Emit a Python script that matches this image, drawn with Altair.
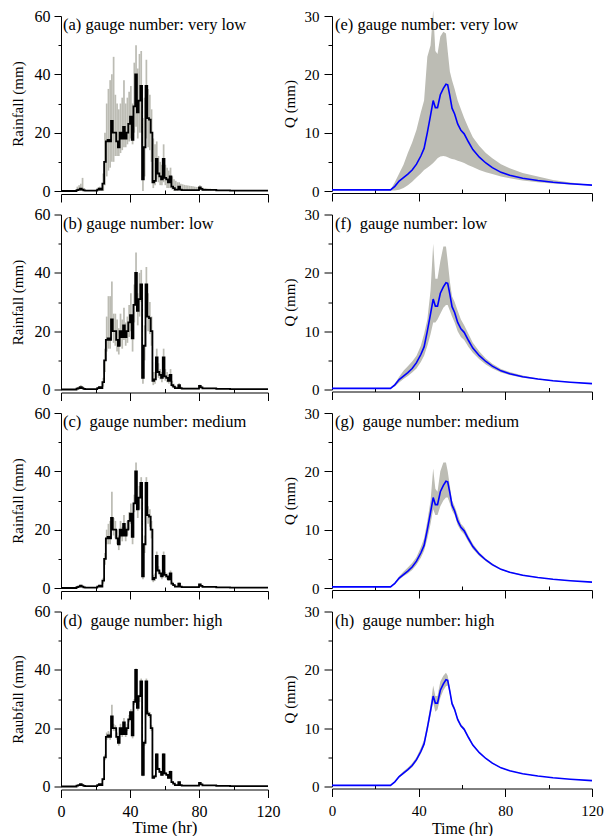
import altair as alt
import pandas as pd

# ---------------- Rainfall (hourly, t = 0..119) ----------------
HOURS = list(range(120))

R_MID = [
    0, 0, 0, 0, 0, 0, 0, 0, 0, 0.3,
    0.5, 0.8, 0.5, 0.2, 0.1, 0.1, 0.1, 0.1, 0.1, 0.1,
    0.1, 0.5, 0.8, 0.5, 2.5, 10, 17, 17.5, 17, 24,
    20, 20, 17, 15, 20, 18, 22, 18, 20, 23,
    25.5, 17.5, 29, 40, 27, 31, 36, 4, 15, 36,
    25, 24.5, 20, 3, 3.5, 11, 6, 5, 4, 11,
    4.5, 4, 3, 5, 1.5, 1, 0.5, 0.5, 1.5, 0.5,
    0.3, 0.3, 0.3, 0.3, 0.3, 0.3, 0.3, 0.3, 0.3, 0.3,
    1.2, 0.7, 0.4, 0.4, 0.4, 0.4, 0.4, 0.4, 0.4, 0.4,
    0.2, 0.2, 0.2, 0.2, 0.2, 0.2, 0.2, 0.2, 0.1, 0.1,
    0.1, 0.1, 0.1, 0.1, 0.1, 0.1, 0.1, 0.1, 0.1, 0.1,
    0.1, 0.1, 0.1, 0.1, 0.1, 0.1, 0.1, 0.1, 0.1, 0.1,
]

A_HI = [
    0, 0, 0, 0, 0, 0, 0, 0, 0.3, 1.5,
    2, 2.5, 4.5, 1, 0.3, 0.3, 0.3, 0.3, 0.3, 0.3,
    0.5, 1.2, 1.5, 1.2, 6, 20, 30, 35, 38, 40,
    46, 33, 30, 28, 30, 32, 38, 30, 32, 34,
    36, 30, 44, 50, 42, 47, 48, 25, 32, 45,
    35, 33, 28, 18, 16, 17, 12, 10, 9, 16,
    9, 8, 7, 8, 5, 4, 3.5, 3, 3, 2.5,
    2.3, 2.1, 2, 1.9, 1.8, 1.7, 1.6, 1.5, 1.4, 1.4,
    2, 1.5, 1.1, 1, 0.9, 0.8, 0.8, 0.7, 0.6, 0.5,
    0.4, 0.35, 0.3, 0.3, 0.25, 0.25, 0.2, 0.2, 0.15, 0.15,
    0.1, 0.1, 0.1, 0.1, 0.1, 0.1, 0.1, 0.1, 0.1, 0.1,
    0.1, 0.1, 0.1, 0.1, 0.1, 0.1, 0.1, 0.1, 0.1, 0.1,
]
A_LO = [
    0, 0, 0, 0, 0, 0, 0, 0, 0, 0,
    0, 0, 0, 0, 0, 0, 0, 0, 0, 0,
    0, 0, 0, 0, 0, 2, 5, 7, 8, 10,
    10, 12, 12, 12, 13, 14, 15, 15, 16, 17,
    18, 16, 20, 22, 18, 20, 20, 0, 5, 18,
    15, 14, 10, 1, 2, 4, 3, 2, 2, 3,
    2, 1, 1, 1, 0.5, 0, 0, 0, 0.3, 0,
    0, 0, 0, 0, 0, 0, 0, 0, 0, 0,
    0.4, 0.2, 0, 0, 0, 0, 0, 0, 0, 0,
    0, 0, 0, 0, 0, 0, 0, 0, 0, 0,
    0, 0, 0, 0, 0, 0, 0, 0, 0, 0,
    0, 0, 0, 0, 0, 0, 0, 0, 0, 0,
]

B_HI = [
    0, 0, 0, 0, 0, 0, 0, 0, 0, 0.8,
    1.2, 1.5, 1.2, 0.5, 0.2, 0.2, 0.2, 0.2, 0.2, 0.2,
    0.2, 0.8, 1.2, 0.8, 4, 14, 25, 32, 32, 37,
    26, 26, 24, 21, 26, 24, 28, 23, 25, 29,
    33, 24, 36, 47, 33, 40, 41, 10, 22, 42,
    33, 30, 25, 6, 6, 14, 9, 7, 6, 14,
    7, 6, 5, 7, 3, 2, 1.2, 1, 2.2, 1,
    0.6, 0.6, 0.6, 0.6, 0.6, 0.6, 0.6, 0.6, 0.6, 0.6,
    1.6, 1, 0.6, 0.6, 0.6, 0.6, 0.6, 0.6, 0.6, 0.6,
    0.3, 0.3, 0.3, 0.3, 0.3, 0.3, 0.3, 0.3, 0.15, 0.15,
    0.15, 0.15, 0.15, 0.15, 0.15, 0.15, 0.15, 0.15, 0.15, 0.15,
    0.15, 0.15, 0.15, 0.15, 0.15, 0.15, 0.15, 0.15, 0.15, 0.15,
]
B_LO = [
    0, 0, 0, 0, 0, 0, 0, 0, 0, 0,
    0, 0.3, 0.2, 0, 0, 0, 0, 0, 0, 0,
    0, 0.2, 0.4, 0.2, 1, 6, 13, 14, 14, 20,
    16, 15, 13, 12, 15, 14, 17, 15, 16, 18,
    20, 13, 23, 33, 22, 25, 30, 2, 10, 30,
    20, 19, 15, 1.5, 2, 8, 4, 3.5, 2.5, 8,
    3, 2.5, 2, 3.5, 0.8, 0.5, 0.2, 0.2, 0.8, 0.2,
    0.1, 0.1, 0.1, 0.1, 0.1, 0.1, 0.1, 0.1, 0.1, 0.1,
    0.7, 0.4, 0.2, 0.2, 0.2, 0.2, 0.2, 0.2, 0.2, 0.2,
    0.1, 0.1, 0.1, 0.1, 0.1, 0.1, 0.1, 0.1, 0.05, 0.05,
    0.05, 0.05, 0.05, 0.05, 0.05, 0.05, 0.05, 0.05, 0.05, 0.05,
    0.05, 0.05, 0.05, 0.05, 0.05, 0.05, 0.05, 0.05, 0.05, 0.05,
]

C_HI = [
    0, 0, 0, 0, 0, 0, 0, 0, 0, 0.5,
    0.8, 1.1, 0.8, 0.4, 0.2, 0.2, 0.2, 0.2, 0.2, 0.2,
    0.2, 0.8, 1.1, 0.8, 3.5, 12, 20, 22, 23, 33,
    24, 23, 20, 18, 23, 21, 25, 21, 23, 26,
    29, 21, 32, 43, 30, 35, 38, 6, 18, 38,
    28, 27, 23, 4.5, 5, 12.5, 7.5, 6, 5, 12.5,
    5.5, 5, 4, 6, 2.2, 1.4, 0.8, 0.8, 1.9, 0.8,
    0.5, 0.5, 0.5, 0.5, 0.5, 0.5, 0.5, 0.5, 0.5, 0.5,
    1.5, 0.9, 0.5, 0.5, 0.5, 0.5, 0.5, 0.5, 0.5, 0.5,
    0.3, 0.3, 0.3, 0.3, 0.3, 0.3, 0.3, 0.3, 0.15, 0.15,
    0.15, 0.15, 0.15, 0.15, 0.15, 0.15, 0.15, 0.15, 0.15, 0.15,
    0.15, 0.15, 0.15, 0.15, 0.15, 0.15, 0.15, 0.15, 0.15, 0.15,
]
C_LO = [
    0, 0, 0, 0, 0, 0, 0, 0, 0, 0.1,
    0.2, 0.5, 0.3, 0.1, 0, 0, 0, 0, 0, 0,
    0, 0.3, 0.5, 0.3, 1.5, 8, 15, 15, 15, 20,
    18, 17, 15, 13, 17, 16, 19, 16, 18, 20,
    22, 15, 26, 36, 24, 27, 32, 3, 12, 32,
    22, 21, 17, 2, 2.5, 9.5, 5, 4, 3, 9.5,
    3.5, 3, 2.5, 4, 1, 0.7, 0.3, 0.3, 1.1, 0.3,
    0.15, 0.15, 0.15, 0.15, 0.15, 0.15, 0.15, 0.15, 0.15, 0.15,
    0.9, 0.5, 0.3, 0.3, 0.3, 0.3, 0.3, 0.3, 0.3, 0.3,
    0.1, 0.1, 0.1, 0.1, 0.1, 0.1, 0.1, 0.1, 0.05, 0.05,
    0.05, 0.05, 0.05, 0.05, 0.05, 0.05, 0.05, 0.05, 0.05, 0.05,
    0.05, 0.05, 0.05, 0.05, 0.05, 0.05, 0.05, 0.05, 0.05, 0.05,
]

D_HI = [
    0, 0, 0, 0, 0, 0, 0, 0, 0, 0.4,
    0.6, 0.9, 0.6, 0.3, 0.15, 0.15, 0.15, 0.15, 0.15, 0.15,
    0.15, 0.6, 0.9, 0.6, 3, 11, 18.5, 19, 18.5, 28,
    21.5, 21, 18.5, 16.5, 21.5, 19.5, 23.5, 19, 21.5, 24.5,
    26.5, 18.5, 30, 40.5, 28, 31.5, 37, 5, 16, 37,
    26, 25.5, 21, 3.5, 4, 11.5, 6.5, 5.5, 4.5, 11.5,
    5, 4.4, 3.3, 5.5, 1.7, 1.2, 0.6, 0.6, 1.7, 0.6,
    0.4, 0.4, 0.4, 0.4, 0.4, 0.4, 0.4, 0.4, 0.4, 0.4,
    1.3, 0.8, 0.45, 0.45, 0.45, 0.45, 0.45, 0.45, 0.45, 0.45,
    0.25, 0.25, 0.25, 0.25, 0.25, 0.25, 0.25, 0.25, 0.12, 0.12,
    0.12, 0.12, 0.12, 0.12, 0.12, 0.12, 0.12, 0.12, 0.12, 0.12,
    0.12, 0.12, 0.12, 0.12, 0.12, 0.12, 0.12, 0.12, 0.12, 0.12,
]
D_LO = [
    0, 0, 0, 0, 0, 0, 0, 0, 0, 0.2,
    0.4, 0.7, 0.4, 0.1, 0.05, 0.05, 0.05, 0.05, 0.05, 0.05,
    0.05, 0.4, 0.7, 0.4, 2, 9, 16, 16.5, 16, 22,
    19, 19, 16, 14, 19, 17, 21, 17, 19, 22,
    24.5, 16.5, 28, 39, 26, 29, 35, 3.5, 14, 35,
    24, 23.5, 19, 2.7, 3, 10.5, 5.6, 4.6, 3.6, 10.5,
    4, 3.6, 2.7, 4.6, 1.3, 0.8, 0.4, 0.4, 1.3, 0.4,
    0.2, 0.2, 0.2, 0.2, 0.2, 0.2, 0.2, 0.2, 0.2, 0.2,
    1.1, 0.6, 0.35, 0.35, 0.35, 0.35, 0.35, 0.35, 0.35, 0.35,
    0.15, 0.15, 0.15, 0.15, 0.15, 0.15, 0.15, 0.15, 0.08, 0.08,
    0.08, 0.08, 0.08, 0.08, 0.08, 0.08, 0.08, 0.08, 0.08, 0.08,
    0.08, 0.08, 0.08, 0.08, 0.08, 0.08, 0.08, 0.08, 0.08, 0.08,
]

# ---------------- Discharge Q ----------------
Q_T = [0, 27, 29, 31, 33, 35, 37, 39, 41,
       42.5, 44, 45.5, 46.7, 47.7, 48.7,
       50, 51.4, 52.6, 53.4, 54.4, 55.4, 56.6,
       58, 59.5, 61, 63, 65,
       68, 71, 74, 78, 82,
       88, 95, 102, 110, 120]
Q_MID = [0.2, 0.2, 0.8, 1.7, 2.3, 2.9, 3.6, 4.6, 6.0,
         7.3, 10, 13, 15.5, 14.3, 14.3,
         16.5, 17.6, 18.3, 18.2, 16.3, 14.2, 13.2,
         11.5, 10.4, 9.8, 8.4, 7.1,
         5.8, 4.8, 4.0, 3.2, 2.7,
         2.2, 1.8, 1.5, 1.25, 1.0]
E_HI = [0.2, 0.2, 1.5, 3.0, 4.5, 6.5, 8.3, 10.5, 13.5,
        15.5, 23, 25, 31, 24, 23.5,
        26.5, 27.3, 27, 24, 20.5, 19, 17.5,
        15.5, 14, 12.5, 10.8, 9.2,
        7.7, 6.5, 5.6, 4.6, 3.9,
        3.1, 2.5, 1.9, 1.45, 1.05]
E_LO = [0.2, 0.1, 0.1, 0.2, 0.5, 1.0, 1.6, 2.3, 3.0,
        3.6, 4.0, 4.4, 4.8, 5.2, 5.6,
        5.9, 6.0, 5.9, 5.8, 5.6, 5.5, 5.4,
        5.2, 5.0, 4.8, 4.4, 4.1,
        3.6, 3.2, 2.9, 2.5, 2.2,
        1.8, 1.5, 1.3, 1.1, 0.95]
F_HI = [0.2, 0.2, 1.0, 2.2, 3.2, 4.0, 4.8, 5.8, 7.5,
        9.5, 12, 17, 25, 19, 19,
        22, 24.5, 24.5, 22, 18.5, 16, 15,
        13.5, 12, 11, 9.5, 8,
        6.5, 5.3, 4.4, 3.5, 3.0,
        2.4, 1.9, 1.6, 1.3, 1.0]
F_LO = [0.2, 0.2, 0.5, 1.2, 1.8, 2.3, 2.9, 3.6, 4.7,
        5.8, 7.5, 9.5, 11.5, 11.5, 12,
        13, 14, 14.5, 14.5, 13.5, 12.5, 11.5,
        10, 9, 8.5, 7.3, 6.3,
        5.2, 4.3, 3.6, 2.9, 2.5,
        2.0, 1.7, 1.4, 1.2, 0.95]
G_HI = [0.2, 0.2, 0.9, 2.0, 2.8, 3.5, 4.3, 5.3, 7.0,
        8.5, 11.5, 15, 20.5, 17, 16.5,
        20, 21.5, 21.5, 20, 17.5, 15, 14,
        12.5, 11, 10.4, 8.9, 7.6,
        6.1, 5.0, 4.2, 3.3, 2.8,
        2.3, 1.85, 1.55, 1.27, 1.0]
G_LO = [0.2, 0.2, 0.7, 1.4, 2.0, 2.5, 3.1, 4.0, 5.2,
        6.4, 8.5, 11, 13.5, 12.5, 12.5,
        14, 15, 15.5, 15.5, 14.5, 13.3, 12.5,
        10.8, 9.8, 9.2, 7.9, 6.7,
        5.5, 4.6, 3.8, 3.1, 2.6,
        2.1, 1.75, 1.45, 1.22, 0.98]
H_HI = [0.2, 0.2, 0.85, 1.9, 2.6, 3.2, 4.0, 5.0, 6.6,
        8.0, 10.8, 14, 17.3, 15.5, 15.5,
        18, 19, 19.5, 19, 16.8, 14.6, 13.6,
        11.8, 10.7, 10.1, 8.6, 7.3,
        5.9, 4.9, 4.1, 3.25, 2.75,
        2.25, 1.82, 1.52, 1.26, 1.0]
H_LO = [0.2, 0.2, 0.75, 1.5, 2.1, 2.7, 3.3, 4.3, 5.6,
        6.9, 9.4, 12.2, 14.5, 12.8, 13.2,
        15.2, 16.5, 17.2, 17.3, 15.8, 13.8, 12.9,
        11.2, 10.2, 9.6, 8.2, 6.9,
        5.7, 4.7, 3.9, 3.15, 2.65,
        2.15, 1.78, 1.48, 1.24, 1.0]

RAIN_TITLES = ["(a) gauge number: very low", "(b) gauge number: low",
               "(c)\u00a0 gauge number: medium", "(d)\u00a0 gauge number: high"]
Q_TITLES = ["(e) gauge number: very low", "(f)\u00a0 gauge number: low",
            "(g)\u00a0 gauge number: medium", "(h)\u00a0 gauge number: high"]
RAIN_YTITLES = ["Rainfall (mm)", "Rainfall (mm)", "Rainfall (mm)", "Raubfall (mm)"]

X_MAJOR = [0, 40, 80, 120]
X_MINOR = [20, 60, 100]
R_MAJOR = [0, 20, 40, 60]
R_MINOR = [10, 30, 50]
Q_MAJOR = [0, 10, 20, 30]
Q_MINOR = [5, 15, 25]

GREY = "#bcbcb4"
FONT = "Liberation Serif"
W_L, W_R, H = 207, 260, 175


def x_major(bottom, lab, tit, off, lpad, tpad):
    kw = dict(orient="bottom", values=X_MAJOR, tickSize=8, labelPadding=lpad,
              offset=off, labelFlush=False, labels=bottom, labelFontSize=lab,
              titleFontSize=tit, titlePadding=tpad, domainColor="black",
              tickColor="black")
    kw["title"] = "Time (hr)" if bottom else None
    return alt.Axis(**kw)


def x_minor(off):
    return alt.Axis(orient="bottom", values=X_MINOR, tickSize=4,
                    offset=off - 4, labels=False, domain=False, title=None,
                    tickColor="black")


def rain_panel(i, lo, hi, bottom):
    band_df = pd.DataFrame({"t": HOURS, "t1": [h + 1 for h in HOURS],
                            "lo": lo, "hi": hi})
    mid_df = pd.DataFrame({"t": HOURS + [120], "r": R_MID + [R_MID[-1]]})
    xs = alt.Scale(domain=[0, 120], nice=False)
    ys = alt.Scale(domain=[0, 60], nice=False)
    band = alt.Chart(band_df).mark_rect(color=GREY).encode(
        x=alt.X("t:Q", scale=xs, axis=x_major(bottom, 16, 17, 3, 6, 0)),
        x2="t1",
        y=alt.Y("lo:Q", scale=ys, axis=alt.Axis(
            orient="left", values=R_MAJOR, tickSize=7, labelPadding=4,
            labelFontSize=16, title=RAIN_YTITLES[i], titleFontSize=15,
            titlePadding=8.5, domainColor="black", tickColor="black")),
        y2="hi",
    )
    line = alt.Chart(mid_df).mark_line(
        interpolate="step-after", color="black", strokeWidth=1.8).encode(
        x=alt.X("t:Q", scale=xs, axis=x_minor(3)),
        y=alt.Y("r:Q", scale=ys, axis=alt.Axis(
            orient="left", values=R_MINOR, tickSize=3, labels=False,
            domain=False, title=None, tickColor="black")),
    )
    txt = alt.Chart(pd.DataFrame({"label": [RAIN_TITLES[i]]})).mark_text(
        align="left", baseline="top", fontSize=16.5, font=FONT,
        color="black").encode(x=alt.value(2), y=alt.value(1), text="label:N")
    return alt.layer(band, line, txt).resolve_axis(
        x="independent", y="independent").properties(width=W_L, height=H)


def q_panel(i, lo, hi, bottom):
    df = pd.DataFrame({"t": Q_T, "mid": Q_MID, "lo": lo, "hi": hi})
    xs = alt.Scale(domain=[0, 120], nice=False)
    ys = alt.Scale(domain=[0, 30], nice=False)
    band = alt.Chart(df).mark_area(color=GREY, opacity=1).encode(
        x=alt.X("t:Q", scale=xs, axis=x_major(bottom, 15, 16, 2, 7, 1.5)),
        y=alt.Y("lo:Q", scale=ys, axis=alt.Axis(
            orient="left", values=Q_MAJOR, tickSize=8, labelPadding=5,
            labelFontSize=15, title="Q (mm)", titleFontSize=15,
            titlePadding=7, domainColor="black", tickColor="black")),
        y2="hi",
    )
    line = alt.Chart(df).mark_line(color="#0000ff", strokeWidth=1.6).encode(
        x=alt.X("t:Q", scale=xs, axis=x_minor(2)),
        y=alt.Y("mid:Q", scale=ys, axis=alt.Axis(
            orient="left", values=Q_MINOR, tickSize=4, labels=False,
            domain=False, title=None, tickColor="black")),
    )
    txt = alt.Chart(pd.DataFrame({"label": [Q_TITLES[i]]})).mark_text(
        align="left", baseline="top", fontSize=16.5, font=FONT,
        color="black").encode(x=alt.value(3), y=alt.value(1), text="label:N")
    return alt.layer(band, line, txt).resolve_axis(
        x="independent", y="independent").properties(width=W_R, height=H)


rain_bands = [(A_LO, A_HI), (B_LO, B_HI), (C_LO, C_HI), (D_LO, D_HI)]
q_bands = [(E_LO, E_HI), (F_LO, F_HI), (G_LO, G_HI), (H_LO, H_HI)]

cells = []
for i in range(4):
    bottom = i == 3
    cells.append(rain_panel(i, rain_bands[i][0], rain_bands[i][1], bottom))
    cells.append(q_panel(i, q_bands[i][0], q_bands[i][1], bottom))

chart = alt.concat(
    *cells, columns=2, spacing={"row": 23.5, "column": 64},
    bounds="flush", align="each",
).properties(
    padding={"top": 0, "left": 2, "right": 0, "bottom": 0}
).configure(font=FONT).configure_axis(
    grid=False, labelFont=FONT, titleFont=FONT, titleFontWeight="normal",
    labelColor="black", titleColor="black",
).configure_view(stroke=None)

chart.save("out.html", embed_options={"renderer": "svg", "actions": False})
